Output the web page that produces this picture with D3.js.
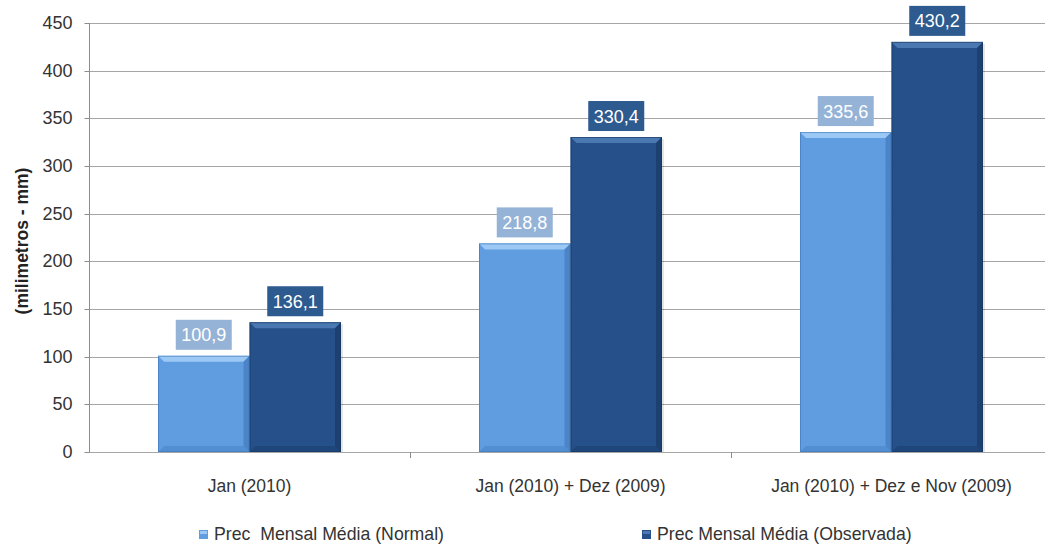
<!DOCTYPE html>
<html><head><meta charset="utf-8">
<script src="https://cdn.jsdelivr.net/npm/d3@7"></script>
<style>
body{margin:0;background:#fff;}
text{font-family:"Liberation Sans",Arial,sans-serif;}
</style></head>
<body>
<svg id="c" width="1045" height="546"></svg>
<script>
const categories = ["Jan (2010)", "Jan (2010) + Dez (2009)", "Jan (2010) + Dez e Nov (2009)"];
const seriesNames = ["Prec  Mensal Média (Normal)", "Prec Mensal Média (Observada)"];
const normalValues = [100.9, 218.8, 335.6];
const observedValues = [136.1, 330.4, 430.2];
const yTicks = [0, 50, 100, 150, 200, 250, 300, 350, 400, 450];
const yTitle = "(milimetros - mm)";

const svg = d3.select("#c");
const mLeft = 89, mTop = 23, mBottom = 452;
const band = 321;
const x = d3.scaleBand().domain(categories).range([mLeft, mLeft + band * 3]).paddingInner(0).paddingOuter(0);
const y = d3.scaleLinear().domain([0, 450]).range([mBottom, mTop]);
const sub = d3.scaleBand().domain([0, 1]).range([0, 183]);

const fills = ["#5f9ce0", "#26508a"];
const lights = ["#9cc8f5", "#4b78b0"];
const darks = ["#3d76b8", "#15355f"];
const labelBg = ["#95b3d7", "#2d5a8f"];

// gridlines
svg.append("g").selectAll("line").data(yTicks).join("line")
  .attr("x1", mLeft).attr("x2", 1045)
  .attr("y1", d => Math.round(y(d)) + 0.5).attr("y2", d => Math.round(y(d)) + 0.5)
  .attr("stroke", "#a6a6a6").attr("stroke-width", 1);

// y axis
const ya = svg.append("g").attr("transform", `translate(${mLeft + 0.5},0)`)
  .call(d3.axisLeft(y).tickValues(yTicks).tickSize(5).tickPadding(12).tickFormat(d3.format("d")));
ya.select(".domain").attr("stroke", "#8c8c8c").attr("d", `M0,${mTop}V${mBottom}`);
ya.selectAll(".tick line").attr("stroke", "#8c8c8c");
ya.selectAll(".tick text").attr("font-size", 18).attr("fill", "#333").style("font-family", "Liberation Sans, Arial");
ya.selectAll(".tick").attr("transform", d => `translate(0,${Math.round(y(d)) + 0.5})`);

// x axis
const xa = svg.append("g").attr("transform", `translate(0,${mBottom + 0.5})`)
  .call(d3.axisBottom(x).tickSize(0).tickPadding(27));
xa.select(".domain").remove();
xa.selectAll(".tick text").attr("font-size", 17.5).attr("fill", "#333").style("font-family", "Liberation Sans, Arial");
svg.append("g").selectAll("line").data([mLeft + band, mLeft + 2 * band]).join("line")
  .attr("x1", d => d + 0.5).attr("x2", d => d + 0.5).attr("y1", mBottom).attr("y2", mBottom + 6)
  .attr("stroke", "#8c8c8c");

// bars
const series = [normalValues, observedValues];
series.forEach((vals, si) => {
  const g = svg.append("g");
  vals.forEach((v, i) => {
    const cx = x(categories[i]) + band / 2 - 91.5;
    const x0 = cx + sub(si), w = sub.bandwidth();
    const y0 = y(v), h = mBottom - y0;
    const b = 6;
    g.append("rect").attr("x", x0 + 2).attr("y", y0 + 2).attr("width", w).attr("height", h - 2).attr("fill", "#000").attr("opacity", 0.1);
    g.append("rect").attr("x", x0).attr("y", y0).attr("width", w).attr("height", h).attr("fill", fills[si]);
    g.append("polygon").attr("points", `${x0},${y0} ${x0 + w},${y0} ${x0 + w - b},${y0 + b} ${x0 + b},${y0 + b}`).attr("fill", lights[si]);
    g.append("polygon").attr("points", `${x0 + w},${y0} ${x0 + w},${mBottom} ${x0 + w - b},${mBottom - b} ${x0 + w - b},${y0 + b}`).attr("fill", darks[si]).attr("opacity", 0.6);
    g.append("polygon").attr("points", `${x0},${mBottom} ${x0 + w},${mBottom} ${x0 + w - b},${mBottom - b} ${x0 + b},${mBottom - b}`).attr("fill", darks[si]).attr("opacity", 0.35);
    g.append("rect").attr("x", x0 + 0.5).attr("y", y0 + 0.5).attr("width", w - 1).attr("height", h - 1).attr("fill", "none").attr("stroke", darks[si]).attr("stroke-width", 1).attr("opacity", 0.6);
    const txt = d3.format(".1f")(v).replace(".", ",");
    const bw = 56, bh = 30;
    const lx = x0 + w / 2 - bw / 2, ly = y0 - 6 - bh;
    g.append("rect").attr("x", lx).attr("y", ly).attr("width", bw).attr("height", bh).attr("fill", labelBg[si]);
    g.append("text").attr("x", x0 + w / 2).attr("y", ly + bh / 2 + 6.5).attr("text-anchor", "middle")
      .attr("font-size", 18).attr("fill", "#fff").text(txt);
  });
});

// y title
svg.append("text").attr("transform", `translate(28,241) rotate(-90)`).attr("text-anchor", "middle")
  .attr("font-size", 17.5).attr("font-weight", "bold").attr("fill", "#222").text(yTitle);

// legend
const legX = [199, 642];
seriesNames.forEach((n, i) => {
  const g = svg.append("g").attr("transform", `translate(${legX[i]},530)`);
  g.append("rect").attr("x", 0).attr("y", 0).attr("width", 9).attr("height", 9).attr("fill", fills[i]);
  g.append("rect").attr("x", 1).attr("y", 1).attr("width", 7).attr("height", 3).attr("fill", lights[i]);
  g.append("text").attr("x", 15).attr("y", 10).attr("font-size", 17.7).attr("fill", "#333")
    .style("white-space", "pre").text(n);
});
</script>
</body></html>
